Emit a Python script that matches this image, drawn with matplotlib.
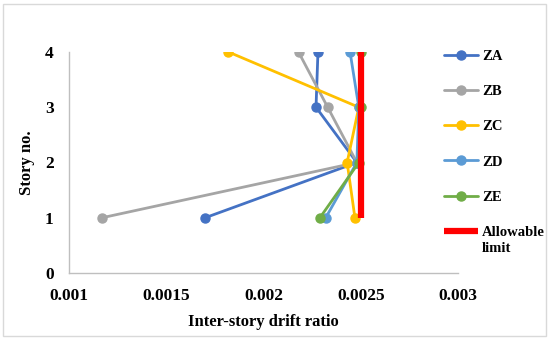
import matplotlib
matplotlib.use("Agg")
import matplotlib.pyplot as plt
from matplotlib.patches import Rectangle

stories = [1, 2, 3, 4]
za = [0.00170, 0.00248, 0.00227, 0.00228]
zb = [0.00117, 0.00248, 0.00233, 0.00218]
zc = [0.00247, 0.00243, 0.00249, 0.00182]
zd = [0.00232, 0.00248, 0.00249, 0.002445]
ze = [0.00229, 0.00249, 0.00250, 0.00250]
limit_x = [0.0025, 0.0025, 0.0025, 0.0025]

series_names = ["ZA", "ZB", "ZC", "ZD", "ZE"]
series_vals = [za, zb, zc, zd, ze]
colors = ["#4472C4", "#A5A5A5", "#FFC000", "#5B9BD5", "#70AD47"]
limit_label = ["Allowable", "limit"]

xticks = [0.001, 0.0015, 0.002, 0.0025, 0.003]
xticklabels = ["0.001", "0.0015", "0.002", "0.0025", "0.003"]
yticks = [0, 1, 2, 3, 4]

plt.rcParams['font.family'] = ['Liberation Serif', 'DejaVu Serif']
plt.rcParams['font.weight'] = 'bold'

W, H = 550, 339
fig = plt.figure(figsize=(W/100, H/100), dpi=100)
ax = fig.add_axes([69/W, 1-273/H, (458-69)/W, (273-52)/H])

handles = []
for name, vals, c in zip(series_names, series_vals, colors):
    h, = ax.plot(vals, stories, color=c, lw=2.0, marker='o', ms=6.5,
                 label=name, solid_capstyle='round')
    handles.append(h)
hl, = ax.plot(limit_x, stories, color="#FF0000", lw=4.5, label=limit_label[0],
              solid_capstyle='butt')
handles.append(hl)

ax.set_xlim(0.001, 0.003)
ax.set_ylim(0, 4)
ax.set_xticks(xticks)
ax.set_xticklabels(xticklabels)
ax.set_yticks(yticks)
ax.tick_params(axis='x', length=0, labelsize=12.5, pad=11)
ax.tick_params(axis='y', length=0, labelsize=12.5, pad=11)
for lab in ax.get_xticklabels() + ax.get_yticklabels():
    lab.set_fontweight('bold')
for s in ['top', 'right']:
    ax.spines[s].set_visible(False)
for s in ['left', 'bottom']:
    ax.spines[s].set_color('#BFBFBF')
    ax.spines[s].set_linewidth(1.0)

ax.set_xlabel("Inter-story drift ratio", fontsize=12, fontweight='bold', labelpad=7)
ax.set_ylabel("Story no.", fontsize=12, fontweight='bold', labelpad=7)

leg = fig.legend(handles=handles, loc='upper left', bbox_to_anchor=(431/W, 1-37/H),
                 frameon=False, handlelength=2.3, labelspacing=1.5,
                 handletextpad=0.3, prop={'weight': 'bold', 'size': 10.5})
fig.canvas.draw()
last = leg.get_texts()[-1]
bb = last.get_window_extent()
fig.text(bb.x0 / W, (bb.y0 - 3) / H, limit_label[1], fontsize=10.5,
         fontweight='bold', ha='left', va='top')

fig.patches.append(Rectangle((3/W, 3/H), 543/W, 332/H, transform=fig.transFigure,
                             fill=False, edgecolor='#D9D9D9', lw=1.0))

fig.savefig("out.png", dpi=100)
